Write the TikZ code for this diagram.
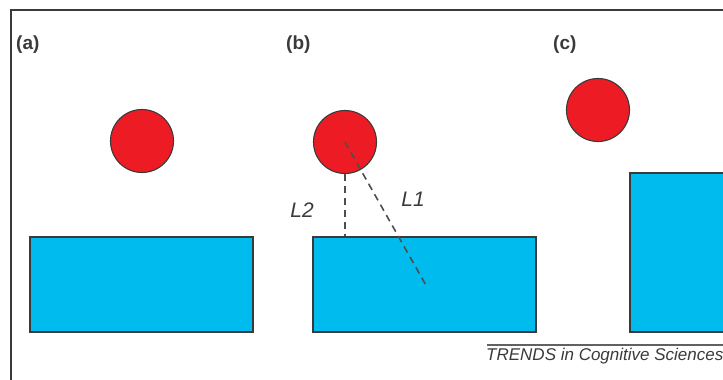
\documentclass[tikz,border=0pt]{standalone}
\usepackage{fontspec}
\setmainfont{Liberation Sans}
\usetikzlibrary{positioning}

\definecolor{ballred}{HTML}{ED1C24}
\definecolor{blockblue}{HTML}{00BCEE}
\definecolor{edgegray}{HTML}{3A3A3A}

\begin{document}
\begin{tikzpicture}[x=1pt, y=-1pt,
    ball/.style={circle, draw=edgegray, fill=ballred, line width=1.1pt, minimum size=63pt, inner sep=0pt},
    block/.style={draw=edgegray, fill=blockblue, line width=1.1pt, minimum width=223pt, minimum height=95pt, inner sep=0pt},
    panel/.style={font=\fontsize{19}{21}\selectfont\bfseries, text=edgegray},
    dist/.style={dashed, dash pattern=on 7pt off 5pt, draw=edgegray!90, line width=1.6pt},
    distlabel/.style={font=\fontsize{21}{23}\selectfont\itshape, text=edgegray}]
    \useasboundingbox (0,0) rectangle (723,380);

    % frame
    \draw[edgegray, line width=2pt] (11,380) -- (11,10) -- (723,10);

    % panel labels
    \node[panel, anchor=west, inner sep=0pt] (la) at (16,45) {(a)};
    \node[panel, anchor=west, inner sep=0pt] (lb) at (286,45) {(b)};
    \node[panel, anchor=west, inner sep=0pt] (lc) at (553,45) {(c)};

    % (a)
    \node[ball] (ba) at (142,141) {};
    \node[block] (ra) at (141.5,284.5) {};

    % (b)
    \node[ball] (bb) at (345,142) {};
    \node[block] (rb) at (424.5,284.5) {};
    \coordinate (l2end) at (rb.north -| bb.south);
    \coordinate (l1end) at (427,287);
    \draw[dist] (bb.south) -- (l2end);
    \draw[dist] (bb.center) -- (l1end);
    \node[distlabel] (l2) at (302,210) {L2};
    \node[distlabel] (l1) at (413,199) {L1};

    % (c)
    \node[ball] (bc) at (598,110) {};
    \node[block, minimum width=150pt, minimum height=159pt] (rc) at (705,252.5) {};

    % source line
    \draw[edgegray!80, line width=1.5pt] (487,345) -- (723,345);
    \node[font=\fontsize{17}{19}\selectfont\itshape, text=edgegray, anchor=north west, inner sep=0pt] (src) at (486,348) {TRENDS in Cognitive Sciences};
\end{tikzpicture}
\end{document}
